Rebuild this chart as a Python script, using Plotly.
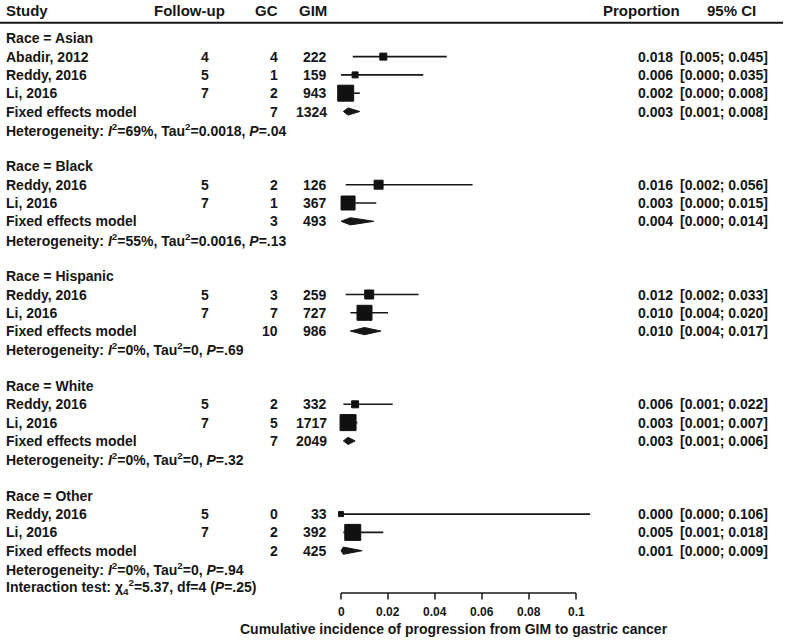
import plotly.graph_objects as go

# ---------------- data ----------------
races = ["Asian", "Black", "Hispanic", "White", "Other"]
study_race = ["Asian", "Asian", "Asian", "Black", "Black", "Hispanic", "Hispanic",
              "White", "White", "Other", "Other"]
study_names = ["Abadir, 2012", "Reddy, 2016", "Li, 2016", "Reddy, 2016", "Li, 2016",
               "Reddy, 2016", "Li, 2016", "Reddy, 2016", "Li, 2016", "Reddy, 2016", "Li, 2016"]
followup = [4, 5, 7, 5, 7, 5, 7, 5, 7, 5, 7]
gc = [4, 1, 2, 2, 1, 3, 7, 2, 5, 0, 2]
gim = [222, 159, 943, 126, 367, 259, 727, 332, 1717, 33, 392]
prop = [0.018, 0.006, 0.002, 0.016, 0.003, 0.012, 0.010, 0.006, 0.003, 0.000, 0.005]
ci_lo = [0.005, 0.000, 0.000, 0.002, 0.000, 0.002, 0.004, 0.001, 0.001, 0.000, 0.001]
ci_hi = [0.045, 0.035, 0.008, 0.056, 0.015, 0.033, 0.020, 0.022, 0.007, 0.106, 0.018]

pooled_gc = [7, 3, 10, 7, 2]
pooled_gim = [1324, 493, 986, 2049, 425]
pooled_prop = [0.003, 0.004, 0.010, 0.003, 0.001]
pooled_lo = [0.001, 0.000, 0.004, 0.001, 0.000]
pooled_hi = [0.008, 0.014, 0.017, 0.006, 0.009]
het_i2 = ["69%", "55%", "0%", "0%", "0%"]
het_tau2 = ["0.0018", "0.0016", "0", "0", "0"]
het_p = [".04", ".13", ".69", ".32", ".94"]
interaction = "Interaction test: χ<sub>4</sub><sup>2</sup>=5.37, df=4 (<i>P</i>=.25)"

tick_vals = [0, 0.02, 0.04, 0.06, 0.08, 0.1]
tick_text = ["0", "0.02", "0.04", "0.06", "0.08", "0.1"]
x_title = "Cumulative incidence of progression from GIM to gastric cancer"

# ---------------- styles / layout geometry ----------------
W, H = 786, 640
INK = "#161616"
FONT = "Liberation Sans, Arial, Helvetica, sans-serif"
square_sizes = [7, 6, 16, 9, 14, 9, 15, 7, 16, 5, 16]
ROW0_PX, ROW_PX = 38.3, 18.3
X0_PX, PX_PER_UNIT = 341.0, 2350.0
PAD = 3  # annotation inner padding compensation


def row_of_px(p):
    return 1 + (p - ROW0_PX) / ROW_PX


def px(xp):
    return xp / W


fig = go.Figure()
ann = []


def text(x_px, row, s, anchor="left", size=14):
    if anchor == "left":
        x_px -= PAD
    elif anchor == "right":
        x_px += PAD
    ann.append(dict(x=px(x_px), y=row, xref="paper", yref="y", text="<b>" + s + "</b>",
                    showarrow=False, xanchor=anchor, yanchor="middle",
                    font=dict(size=size, color=INK, family=FONT)))


# header
hdr_row = row_of_px(10.5)
text(7, hdr_row, "Study", size=15)
text(155, hdr_row, "Follow-up", size=15)
text(277, hdr_row, "GC", "right", size=15)
text(326, hdr_row, "GIM", "right", size=15)
text(604, hdr_row, "Proportion", size=15)
text(755, hdr_row, "95% CI", "right", size=15)

ci_x, ci_y = [], []
sq_x, sq_y, sq_s = [], [], []
row = 1
for g, race in enumerate(races):
    text(7, row, "Race = " + race)
    row += 1
    for i, r in enumerate(study_race):
        if r != race:
            continue
        text(7, row, study_names[i])
        text(205, row, str(followup[i]), "center")
        text(277, row, str(gc[i]), "right")
        text(326, row, str(gim[i]), "right")
        text(672, row, f"{prop[i]:.3f}", "right")
        text(767, row, f"[{ci_lo[i]:.3f}; {ci_hi[i]:.3f}]", "right")
        ci_x += [ci_lo[i], ci_hi[i], None]
        ci_y += [row, row, None]
        sq_x.append(prop[i]); sq_y.append(row); sq_s.append(square_sizes[i])
        row += 1
    # pooled
    text(7, row, "Fixed effects model")
    text(277, row, str(pooled_gc[g]), "right")
    text(326, row, str(pooled_gim[g]), "right")
    text(672, row, f"{pooled_prop[g]:.3f}", "right")
    text(767, row, f"[{pooled_lo[g]:.3f}; {pooled_hi[g]:.3f}]", "right")
    hd = 3.6 / ROW_PX
    fig.add_trace(go.Scatter(
        x=[pooled_lo[g], pooled_prop[g], pooled_hi[g], pooled_prop[g], pooled_lo[g]],
        y=[row, row - hd, row, row + hd, row], mode="lines", fill="toself",
        fillcolor=INK, line=dict(color=INK, width=1), hoverinfo="skip", showlegend=False))
    row += 1
    text(7, row, f"Heterogeneity: <i>I</i><sup>2</sup>={het_i2[g]}, Tau<sup>2</sup>={het_tau2[g]}, "
                 f"<i>P</i>={het_p[g]}")
    row += 1
    if g < len(races) - 1:
        row += 1
text(7, row, interaction)

fig.add_trace(go.Scatter(x=ci_x, y=ci_y, mode="lines", line=dict(color=INK, width=1.6),
                         hoverinfo="skip", showlegend=False))
fig.add_trace(go.Scatter(x=sq_x, y=sq_y, mode="markers", opacity=1,
                         marker=dict(symbol="square", size=sq_s, color="#111111", opacity=1,
                                     line=dict(width=1, color="#111111")),
                         hoverinfo="skip", showlegend=False))

# custom x axis
ax_row = row_of_px(593)
tk_row = row_of_px(599.5)
ax_x = [tick_vals[0], tick_vals[-1], None]
ax_y = [ax_row, ax_row, None]
for t in tick_vals:
    ax_x += [t, t, None]
    ax_y += [ax_row, tk_row, None]
fig.add_trace(go.Scatter(x=ax_x, y=ax_y, mode="lines", line=dict(color=INK, width=1.5),
                         hoverinfo="skip", showlegend=False))
for t, s in zip(tick_vals, tick_text):
    ann.append(dict(x=t, y=row_of_px(612), xref="x", yref="y", text="<b>" + s + "</b>",
                    showarrow=False, xanchor="center", yanchor="middle",
                    font=dict(size=12, color=INK, family=FONT)))
ann.append(dict(x=(tick_vals[0] + tick_vals[-1]) / 2 - 5 / PX_PER_UNIT, y=row_of_px(629),
                xref="x", yref="y", text="<b>" + x_title + "</b>",
                showarrow=False, xanchor="center", yanchor="middle",
                font=dict(size=14, color=INK, family=FONT)))

# header rule
shapes = [dict(type="line", xref="paper", yref="y", x0=0, x1=px(783),
               y0=row_of_px(22.7), y1=row_of_px(22.7), line=dict(color=INK, width=2))]

fig.update_layout(
    width=W, height=H, margin=dict(l=0, r=0, t=0, b=0),
    paper_bgcolor="white", plot_bgcolor="white",
    xaxis=dict(range=[-X0_PX / PX_PER_UNIT, (W - X0_PX) / PX_PER_UNIT],
               visible=False, fixedrange=True),
    yaxis=dict(range=[row_of_px(H), row_of_px(0)], visible=False, fixedrange=True),
    annotations=ann, shapes=shapes, showlegend=False,
)
fig.write_html("out.html", config={"displayModeBar": False},
               post_script="document.body.style.margin='0';document.body.style.overflow='hidden';")
